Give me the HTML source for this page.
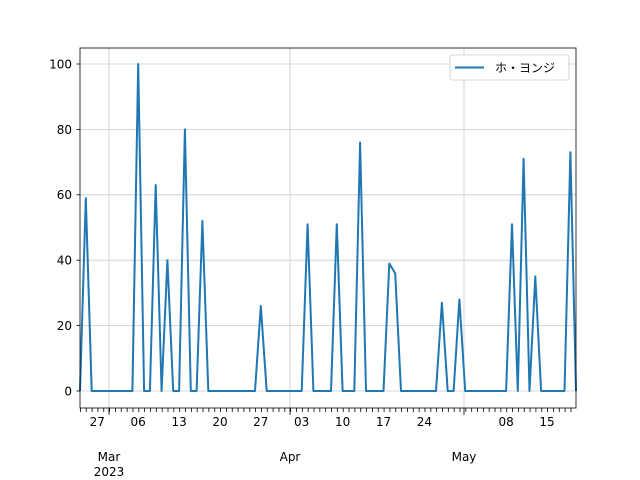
<!DOCTYPE html><html><head><style>body{margin:0;background:#fff}svg{display:block;font-family:"DejaVu Sans","Liberation Sans","Noto Sans CJK JP",sans-serif}</style></head><body>
<svg width="640" height="480" viewBox="0 0 640 480" xmlns="http://www.w3.org/2000/svg">
<rect width="640" height="480" fill="#fff"/>
<g stroke="#cccccc" stroke-width="0.8">
<line x1="80" y1="391" x2="576" y2="391"/><line x1="80" y1="325.6" x2="576" y2="325.6"/><line x1="80" y1="260.2" x2="576" y2="260.2"/><line x1="80" y1="194.8" x2="576" y2="194.8"/><line x1="80" y1="129.4" x2="576" y2="129.4"/><line x1="80" y1="64" x2="576" y2="64"/>
<line x1="109" y1="48" x2="109" y2="408"/><line x1="290" y1="48" x2="290" y2="408"/><line x1="464" y1="48" x2="464" y2="408"/>
</g>
<polyline fill="none" stroke="#1f77b4" stroke-width="2" stroke-linejoin="round" points="80,391 85.8,198.1 91.7,391 132.4,391 138.2,64 144.1,391 149.9,391 155.7,185 161.6,391 167.4,260.2 173.2,391 179.1,391 184.9,129.4 190.8,391 196.6,391 202.4,221 208.3,391 255,391 260.8,306 266.7,391 301.7,391 307.6,224.2 313.4,391 331,391 336.8,224.2 342.6,391 354.3,391 360.1,142.5 366,391 383.5,391 389.3,263.5 395.2,273.3 401,391 436,391 441.9,302.7 447.7,391 453.6,391 459.4,299.4 465.2,391 506.1,391 512,224.2 517.8,391 523.6,158.8 529.5,391 535.3,276.5 541.1,391 564.5,391 570.4,152.3 576,391"/>
<g stroke="#000" stroke-width="0.8">
<line x1="80" y1="391" x2="76.5" y2="391"/><line x1="80" y1="325.6" x2="76.5" y2="325.6"/><line x1="80" y1="260.2" x2="76.5" y2="260.2"/><line x1="80" y1="194.8" x2="76.5" y2="194.8"/><line x1="80" y1="129.4" x2="76.5" y2="129.4"/><line x1="80" y1="64" x2="76.5" y2="64"/>
<line x1="80" y1="410" x2="576" y2="410" stroke-dasharray="0.8 5.04" stroke-width="4" stroke="#000" />
</g>
<rect x="79" y="412" width="498" height="3" fill="#fff"/>
<g stroke="#000" stroke-width="0.8">
<line x1="109" y1="408" x2="109" y2="415"/><line x1="290" y1="408" x2="290" y2="415"/><line x1="464" y1="408" x2="464" y2="415"/>
</g>
<rect x="80" y="48" width="496" height="360" fill="none" stroke="#000" stroke-width="0.8"/>
<g font-size="12" fill="#000" text-anchor="end">
<text x="72" y="395.5">0</text><text x="72" y="330">20</text><text x="72" y="264.6">40</text><text x="72" y="199.2">60</text><text x="72" y="133.8">80</text><text x="72" y="68.5">100</text>
</g>
<g font-size="12" fill="#000" text-anchor="middle">
<text x="97.3" y="426">27</text><text x="138.2" y="426">06</text><text x="179.1" y="426">13</text><text x="220" y="426">20</text><text x="260.8" y="426">27</text><text x="301.7" y="426">03</text><text x="342.6" y="426">10</text><text x="383.5" y="426">17</text><text x="424.4" y="426">24</text><text x="506.1" y="426">08</text><text x="547" y="426">15</text>
<text x="109" y="461">Mar</text><text x="109" y="476">2023</text><text x="290" y="461">Apr</text><text x="464" y="461">May</text>
</g>
<rect x="450" y="55" width="119" height="25" rx="2" fill="#fff" stroke="#ccc" stroke-width="0.8"/>
<line x1="455" y1="67.5" x2="484" y2="67.5" stroke="#1f77b4" stroke-width="2"/>
<text x="495" y="72" font-size="12">ホ・ヨンジ</text>
</svg></body></html>
